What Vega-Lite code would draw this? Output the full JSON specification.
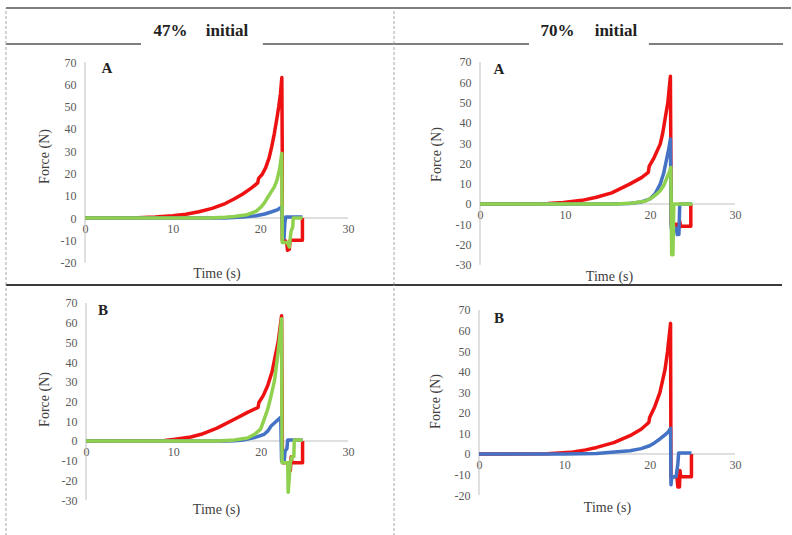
{
"$schema": "https://vega.github.io/schema/vega-lite/v6.json",
"padding": {"left": 5, "top": 7, "right": 2, "bottom": 0},
"background": "white",
"columns": 2,
"spacing": 0,
"bounds": "flush",
"config": {
  "view": {"stroke": null},
  "concat": {"spacing": 0},
  "axis": {"grid": false, "domain": false, "ticks": false, "labelOverlap": false, "labelSeparation": 0, "labelExpr": "'' + datum.value", "labelFont": "Liberation Serif", "labelFontSize": 12, "labelColor": "#595959", "titleFont": "Liberation Serif", "titleFontSize": 14, "titleFontWeight": "normal", "titleColor": "#404040"},
  "axisX": {"labelPadding": 5, "titleBaseline": "middle", "titleAlign": "center", "labelFlush": false},
  "axisY": {"labelPadding": 9, "titleAngle": 270, "titleBaseline": "middle", "titleAlign": "center"},
  "text": {"font": "Liberation Serif"}
},
"datasets": {
  "tl_r": [{"t":0,"f":0},{"t":6,"f":0.1},{"t":8,"f":0.4},{"t":10,"f":1},{"t":11.5,"f":1.7},{"t":13,"f":2.8},{"t":14.5,"f":4.3},{"t":16,"f":6.5},{"t":17,"f":8.5},{"t":18,"f":10.8},{"t":19,"f":13.5},{"t":19.7,"f":15.8},{"t":19.8,"f":17.8},{"t":20.2,"f":19.5},{"t":20.6,"f":22.5},{"t":21,"f":27},{"t":21.3,"f":32},{"t":21.6,"f":38},{"t":21.9,"f":45},{"t":22.1,"f":50},{"t":22.3,"f":56},{"t":22.45,"f":63},{"t":22.5,"f":30},{"t":22.5,"f":-10},{"t":22.8,"f":-10},{"t":23,"f":-11},{"t":23.1,"f":-14.5},{"t":23.3,"f":-14},{"t":23.4,"f":-10},{"t":24.8,"f":-10},{"t":24.8,"f":0}],
  "tl_b": [{"t":0,"f":0},{"t":16,"f":0},{"t":18,"f":0.4},{"t":19.5,"f":1},{"t":20.5,"f":1.8},{"t":21.3,"f":2.8},{"t":22,"f":3.8},{"t":22.45,"f":5},{"t":22.55,"f":-9},{"t":22.7,"f":-9},{"t":22.8,"f":-2},{"t":22.9,"f":0.5},{"t":24.8,"f":0.5}],
  "tl_g": [{"t":0,"f":0},{"t":14,"f":0},{"t":16,"f":0.3},{"t":17,"f":0.7},{"t":18.5,"f":1.5},{"t":19.5,"f":3},{"t":20.1,"f":5},{"t":20.5,"f":7},{"t":20.8,"f":9},{"t":21.2,"f":11.5},{"t":21.6,"f":14},{"t":21.9,"f":17},{"t":22.2,"f":22},{"t":22.45,"f":29},{"t":22.5,"f":-11},{"t":23.1,"f":-11},{"t":23.3,"f":-13},{"t":23.5,"f":-6},{"t":23.7,"f":-4},{"t":23.75,"f":0},{"t":24.8,"f":0}],
  "tr_r": [{"t":0,"f":0},{"t":6,"f":0.1},{"t":8,"f":0.3},{"t":9.8,"f":0.8},{"t":12,"f":1.8},{"t":13.7,"f":3.3},{"t":15.5,"f":5.5},{"t":17.6,"f":9.8},{"t":19,"f":13},{"t":19.8,"f":15.6},{"t":19.9,"f":18.5},{"t":20.5,"f":23},{"t":21.2,"f":29.5},{"t":21.5,"f":35},{"t":21.8,"f":42.6},{"t":22.1,"f":50},{"t":22.4,"f":63},{"t":22.5,"f":-10},{"t":23.1,"f":-10},{"t":23.2,"f":-12},{"t":23.4,"f":-12},{"t":23.5,"f":-8.5},{"t":23.6,"f":-11},{"t":24.8,"f":-11},{"t":24.8,"f":0}],
  "tr_b": [{"t":0,"f":0},{"t":15,"f":0},{"t":17.6,"f":0.3},{"t":19,"f":1},{"t":20,"f":2.5},{"t":20.6,"f":5},{"t":21.2,"f":9.8},{"t":21.6,"f":15},{"t":21.9,"f":21},{"t":22.2,"f":27},{"t":22.4,"f":32},{"t":22.5,"f":-12},{"t":23.1,"f":-12},{"t":23.2,"f":-15},{"t":23.4,"f":-15},{"t":23.5,"f":0},{"t":24.9,"f":0}],
  "tr_g": [{"t":0,"f":0},{"t":16,"f":0},{"t":18,"f":0.5},{"t":19.5,"f":1.5},{"t":20.3,"f":3.3},{"t":20.8,"f":5},{"t":21.2,"f":6.5},{"t":21.6,"f":9},{"t":22,"f":13},{"t":22.3,"f":16},{"t":22.45,"f":18},{"t":22.55,"f":-25},{"t":22.7,"f":-25},{"t":22.8,"f":0},{"t":25,"f":0}],
  "bl_r": [{"t":0,"f":0},{"t":9,"f":0.2},{"t":10,"f":0.8},{"t":12,"f":2},{"t":13.2,"f":3.4},{"t":15,"f":6.5},{"t":17,"f":11},{"t":18.5,"f":14.5},{"t":19.7,"f":17},{"t":19.8,"f":19.5},{"t":20.3,"f":23},{"t":20.8,"f":28},{"t":21.3,"f":35},{"t":21.6,"f":41.5},{"t":22,"f":50},{"t":22.4,"f":63.5},{"t":22.5,"f":-11},{"t":23.1,"f":-11},{"t":23.2,"f":-15},{"t":23.4,"f":-15},{"t":23.5,"f":-8},{"t":23.6,"f":-11},{"t":24.8,"f":-11},{"t":24.8,"f":0}],
  "bl_b": [{"t":0,"f":0},{"t":16,"f":0},{"t":17,"f":0.1},{"t":18,"f":0.5},{"t":19.3,"f":1.7},{"t":20.4,"f":3.4},{"t":20.8,"f":5},{"t":21.2,"f":7.6},{"t":21.8,"f":10},{"t":22.3,"f":12},{"t":22.4,"f":-10},{"t":22.7,"f":-10},{"t":22.8,"f":-5},{"t":23,"f":-4},{"t":23.1,"f":0.5},{"t":24.8,"f":0.5}],
  "bl_g": [{"t":0,"f":0},{"t":15,"f":0},{"t":17,"f":0.5},{"t":18.5,"f":1.5},{"t":19.3,"f":3.4},{"t":20,"f":6},{"t":20.4,"f":11},{"t":20.8,"f":16},{"t":21.2,"f":23},{"t":21.6,"f":31},{"t":22,"f":45},{"t":22.4,"f":62},{"t":22.45,"f":-11},{"t":23.1,"f":-11},{"t":23.15,"f":-26},{"t":23.3,"f":-17},{"t":23.4,"f":-11},{"t":23.6,"f":-8},{"t":23.8,"f":-8},{"t":23.85,"f":0.5},{"t":24.8,"f":0.5}],
  "br_r": [{"t":0,"f":0},{"t":8,"f":0.1},{"t":10.7,"f":0.8},{"t":12.5,"f":2},{"t":13.8,"f":3.2},{"t":15.8,"f":5.5},{"t":17.7,"f":8.9},{"t":19,"f":12},{"t":19.9,"f":15.3},{"t":20,"f":17.7},{"t":20.6,"f":23},{"t":21.2,"f":29.8},{"t":21.8,"f":41},{"t":22.1,"f":50},{"t":22.45,"f":63.5},{"t":22.5,"f":-11},{"t":23.2,"f":-11},{"t":23.3,"f":-16},{"t":23.5,"f":-16},{"t":23.55,"f":-8},{"t":23.65,"f":-11},{"t":24.9,"f":-11},{"t":24.9,"f":0}],
  "br_b": [{"t":0,"f":0},{"t":10,"f":0},{"t":13.8,"f":0.3},{"t":15.5,"f":0.8},{"t":17.7,"f":1.6},{"t":19,"f":2.6},{"t":20,"f":4},{"t":20.6,"f":5.5},{"t":21.2,"f":7.3},{"t":21.8,"f":9.3},{"t":22.2,"f":10.8},{"t":22.45,"f":12.5},{"t":22.5,"f":-15},{"t":22.6,"f":-11},{"t":23.1,"f":-11},{"t":23.3,"f":-5},{"t":23.4,"f":0.5},{"t":24.9,"f":0.5}]
},
"concat": [
    {"width": 388, "height": 36, "data": {"values": [{}]},
     "layer": [
      {"mark": {"type": "rule", "color": "#555555", "strokeWidth": 1.5}, "encoding": {"x": {"datum": 0, "scale": {"domain": [0, 1]}, "axis": null}, "x2": {"datum": 1}, "y": {"datum": 1, "scale": {"domain": [0, 1]}, "axis": null}}},
      {"mark": {"type": "rule", "color": "#555555", "strokeWidth": 1.5}, "encoding": {"x": {"datum": 0, "axis": null}, "x2": {"datum": 0.348}, "y": {"datum": 0, "axis": null}}},
      {"mark": {"type": "rule", "color": "#555555", "strokeWidth": 1.5}, "encoding": {"x": {"datum": 0.662, "axis": null}, "x2": {"datum": 1}, "y": {"datum": 0, "axis": null}}},
      {"mark": {"type": "rule", "color": "#a6a6a6", "strokeDash": [3, 2], "strokeWidth": 1}, "encoding": {"x": {"datum": 0, "axis": null}, "y": {"datum": 0, "axis": null}, "y2": {"datum": 1}}},
      {"mark": {"type": "rule", "color": "#a6a6a6", "strokeDash": [3, 2], "strokeWidth": 1}, "encoding": {"x": {"datum": 1, "axis": null}, "y": {"datum": 0, "axis": null}, "y2": {"datum": 1}}},
      {"mark": {"type": "text", "fontSize": 17, "fontWeight": "bold", "color": "#222222", "align": "center", "baseline": "alphabetic"}, "encoding": {"x": {"datum": 0.424, "axis": null}, "y": {"datum": 0.222, "axis": null}, "text": {"value": "47%"}}},
      {"mark": {"type": "text", "fontSize": 17, "fontWeight": "bold", "color": "#222222", "align": "center", "baseline": "alphabetic"}, "encoding": {"x": {"datum": 0.5696, "axis": null}, "y": {"datum": 0.222, "axis": null}, "text": {"value": "initial"}}}
     ]},
    {"width": 397, "height": 36, "data": {"values": [{}]},
     "layer": [
      {"mark": {"type": "rule", "color": "#555555", "strokeWidth": 1.5}, "encoding": {"x": {"datum": 0, "scale": {"domain": [0, 1]}, "axis": null}, "x2": {"datum": 1}, "y": {"datum": 1, "scale": {"domain": [0, 1]}, "axis": null}}},
      {"mark": {"type": "rule", "color": "#555555", "strokeWidth": 1.5}, "encoding": {"x": {"datum": 0, "axis": null}, "x2": {"datum": 0.34}, "y": {"datum": 0, "axis": null}}},
      {"mark": {"type": "rule", "color": "#555555", "strokeWidth": 1.5}, "encoding": {"x": {"datum": 0.642, "axis": null}, "x2": {"datum": 0.98}, "y": {"datum": 0, "axis": null}}},
      {"mark": {"type": "text", "fontSize": 17, "fontWeight": "bold", "color": "#222222", "align": "center", "baseline": "alphabetic"}, "encoding": {"x": {"datum": 0.412, "axis": null}, "y": {"datum": 0.222, "axis": null}, "text": {"value": "70%"}}},
      {"mark": {"type": "text", "fontSize": 17, "fontWeight": "bold", "color": "#222222", "align": "center", "baseline": "alphabetic"}, "encoding": {"x": {"datum": 0.559, "axis": null}, "y": {"datum": 0.222, "axis": null}, "text": {"value": "initial"}}}
     ]},
    {"width": 388, "height": 241,
     "layer": [
      {"data": {"values": [{}]}, "mark": {"type": "rule", "color": "#a6a6a6", "strokeDash": [3, 2], "strokeWidth": 1}, "encoding": {"x": {"datum": -9.011, "axis": {"title": "Time (s)", "values": [0, 10, 20, 30], "labelOverlap": false, "offset": -67, "titleX": 210.5, "titleY": 55}}, "y": {"datum": -30.06, "axis": {"title": "Force (N)", "values": [-20, -10, 0, 10, 20, 30, 40, 50, 60, 70], "labelOverlap": false, "offset": -79, "titleX": -41, "titleY": 112}}, "y2": {"datum": 78.08}}},
      {"data": {"values": [{}]}, "mark": {"type": "rule", "color": "#a6a6a6", "strokeDash": [3, 2], "strokeWidth": 1}, "encoding": {"x": {"datum": 35.245, "axis": {"title": "Time (s)", "values": [0, 10, 20, 30], "labelOverlap": false, "offset": -67, "titleX": 210.5, "titleY": 55}}, "y": {"datum": -30.06, "axis": {"title": "Force (N)", "values": [-20, -10, 0, 10, 20, 30, 40, 50, 60, 70], "labelOverlap": false, "offset": -79, "titleX": -41, "titleY": 112}}, "y2": {"datum": 78.08}}},
      {"data": {"values": [{}]}, "mark": {"type": "rule", "color": "#3a3a3a", "strokeWidth": 2}, "encoding": {"x": {"datum": -9.011, "axis": {"title": "Time (s)", "values": [0, 10, 20, 30], "labelOverlap": false, "offset": -67, "titleX": 210.5, "titleY": 55}}, "x2": {"datum": 35.245}, "y": {"datum": -30.06, "axis": {"title": "Force (N)", "values": [-20, -10, 0, 10, 20, 30, 40, 50, 60, 70], "labelOverlap": false, "offset": -79, "titleX": -41, "titleY": 112}}}},
      {"data": {"values": [{}]}, "mark": {"type": "rule", "color": "#c0c0c0", "strokeWidth": 1}, "encoding": {"x": {"datum": 0, "axis": {"title": "Time (s)", "values": [0, 10, 20, 30], "labelOverlap": false, "offset": -67, "titleX": 210.5, "titleY": 55}}, "x2": {"datum": 30}, "y": {"datum": 0, "axis": {"title": "Force (N)", "values": [-20, -10, 0, 10, 20, 30, 40, 50, 60, 70], "labelOverlap": false, "offset": -79, "titleX": -41, "titleY": 112}}}},
      {"data": {"values": [{}]}, "mark": {"type": "rule", "color": "#c0c0c0", "strokeWidth": 1}, "encoding": {"x": {"datum": 0, "axis": {"title": "Time (s)", "values": [0, 10, 20, 30], "labelOverlap": false, "offset": -67, "titleX": 210.5, "titleY": 55}}, "y": {"datum": -20, "axis": {"title": "Force (N)", "values": [-20, -10, 0, 10, 20, 30, 40, 50, 60, 70], "labelOverlap": false, "offset": -79, "titleX": -41, "titleY": 112}}, "y2": {"datum": 70}}},
      {"data": {"values": [{}]}, "mark": {"type": "text", "fontSize": 15, "fontWeight": "bold", "color": "#222222", "align": "center", "baseline": "middle"}, "encoding": {"x": {"datum": 2.5, "axis": {"title": "Time (s)", "values": [0, 10, 20, 30], "labelOverlap": false, "offset": -67, "titleX": 210.5, "titleY": 55}}, "y": {"datum": 67.3, "axis": {"title": "Force (N)", "values": [-20, -10, 0, 10, 20, 30, 40, 50, 60, 70], "labelOverlap": false, "offset": -79, "titleX": -41, "titleY": 112}}, "text": {"value": "A"}}},
      {"data": {"name": "tl_r"}, "mark": {"type": "line", "color": "#ee1111", "strokeWidth": 3.5, "strokeJoin": "round", "order": false},
       "encoding": {
        "x": {"field": "t", "type": "quantitative", "scale": {"domain": [-9.011, 35.245], "nice": false, "zero": false}, "axis": {"title": "Time (s)", "values": [0, 10, 20, 30], "labelOverlap": false, "offset": -67, "titleX": 210.5, "titleY": 55}},
        "y": {"field": "f", "type": "quantitative", "scale": {"domain": [-30.06, 78.08], "nice": false, "zero": false}, "axis": {"title": "Force (N)", "values": [-20, -10, 0, 10, 20, 30, 40, 50, 60, 70], "labelOverlap": false, "offset": -79, "titleX": -41, "titleY": 112}}}},
      {"data": {"name": "tl_b"}, "mark": {"type": "line", "color": "#4472c4", "strokeWidth": 3.5, "strokeJoin": "round", "order": false},
       "encoding": {"x": {"field": "t", "type": "quantitative", "axis": {"title": "Time (s)", "values": [0, 10, 20, 30], "labelOverlap": false, "offset": -67, "titleX": 210.5, "titleY": 55}}, "y": {"field": "f", "type": "quantitative", "axis": {"title": "Force (N)", "values": [-20, -10, 0, 10, 20, 30, 40, 50, 60, 70], "labelOverlap": false, "offset": -79, "titleX": -41, "titleY": 112}}}},
      {"data": {"name": "tl_g"}, "mark": {"type": "line", "color": "#8fd14f", "strokeWidth": 3.5, "strokeJoin": "round", "order": false},
       "encoding": {"x": {"field": "t", "type": "quantitative", "axis": {"title": "Time (s)", "values": [0, 10, 20, 30], "labelOverlap": false, "offset": -67, "titleX": 210.5, "titleY": 55}}, "y": {"field": "f", "type": "quantitative", "axis": {"title": "Force (N)", "values": [-20, -10, 0, 10, 20, 30, 40, 50, 60, 70], "labelOverlap": false, "offset": -79, "titleX": -41, "titleY": 112}}}}
     ]},
    {"width": 392, "height": 241,
     "layer": [
      {"data": {"values": [{}]}, "mark": {"type": "rule", "color": "#3a3a3a", "strokeWidth": 2}, "encoding": {"x": {"datum": -10.118, "axis": {"title": "Time (s)", "values": [0, 10, 20, 30], "labelOverlap": false, "offset": -81, "titleX": 215, "titleY": 72}}, "x2": {"datum": 35.53}, "y": {"datum": -39.93, "axis": {"title": "Force (N)", "values": [-30, -20, -10, 0, 10, 20, 30, 40, 50, 60, 70], "labelOverlap": false, "offset": -86, "titleX": -44, "titleY": 110}}}},
      {"data": {"values": [{}]}, "mark": {"type": "rule", "color": "#c0c0c0", "strokeWidth": 1}, "encoding": {"x": {"datum": 0, "axis": {"title": "Time (s)", "values": [0, 10, 20, 30], "labelOverlap": false, "offset": -81, "titleX": 215, "titleY": 72}}, "x2": {"datum": 30}, "y": {"datum": 0, "axis": {"title": "Force (N)", "values": [-30, -20, -10, 0, 10, 20, 30, 40, 50, 60, 70], "labelOverlap": false, "offset": -86, "titleX": -44, "titleY": 110}}}},
      {"data": {"values": [{}]}, "mark": {"type": "rule", "color": "#c0c0c0", "strokeWidth": 1}, "encoding": {"x": {"datum": 0, "axis": {"title": "Time (s)", "values": [0, 10, 20, 30], "labelOverlap": false, "offset": -81, "titleX": 215, "titleY": 72}}, "y": {"datum": -30, "axis": {"title": "Force (N)", "values": [-30, -20, -10, 0, 10, 20, 30, 40, 50, 60, 70], "labelOverlap": false, "offset": -86, "titleX": -44, "titleY": 110}}, "y2": {"datum": 70}}},
      {"data": {"values": [{}]}, "mark": {"type": "text", "fontSize": 15, "fontWeight": "bold", "color": "#222222", "align": "center", "baseline": "middle"}, "encoding": {"x": {"datum": 2.24, "axis": {"title": "Time (s)", "values": [0, 10, 20, 30], "labelOverlap": false, "offset": -81, "titleX": 215, "titleY": 72}}, "y": {"datum": 66.5, "axis": {"title": "Force (N)", "values": [-30, -20, -10, 0, 10, 20, 30, 40, 50, 60, 70], "labelOverlap": false, "offset": -86, "titleX": -44, "titleY": 110}}, "text": {"value": "A"}}},
      {"data": {"name": "tr_r"}, "mark": {"type": "line", "color": "#ee1111", "strokeWidth": 3.5, "strokeJoin": "round", "order": false},
       "encoding": {
        "x": {"field": "t", "type": "quantitative", "scale": {"domain": [-10.118, 36.0], "nice": false, "zero": false}, "axis": {"title": "Time (s)", "values": [0, 10, 20, 30], "labelOverlap": false, "offset": -81, "titleX": 215, "titleY": 72}},
        "y": {"field": "f", "type": "quantitative", "scale": {"domain": [-39.93, 78.87], "nice": false, "zero": false}, "axis": {"title": "Force (N)", "values": [-30, -20, -10, 0, 10, 20, 30, 40, 50, 60, 70], "labelOverlap": false, "offset": -86, "titleX": -44, "titleY": 110}}}},
      {"data": {"name": "tr_b"}, "mark": {"type": "line", "color": "#4472c4", "strokeWidth": 3.5, "strokeJoin": "round", "order": false},
       "encoding": {"x": {"field": "t", "type": "quantitative", "axis": {"title": "Time (s)", "values": [0, 10, 20, 30], "labelOverlap": false, "offset": -81, "titleX": 215, "titleY": 72}}, "y": {"field": "f", "type": "quantitative", "axis": {"title": "Force (N)", "values": [-30, -20, -10, 0, 10, 20, 30, 40, 50, 60, 70], "labelOverlap": false, "offset": -86, "titleX": -44, "titleY": 110}}}},
      {"data": {"name": "tr_g"}, "mark": {"type": "line", "color": "#8fd14f", "strokeWidth": 3.5, "strokeJoin": "round", "order": false},
       "encoding": {"x": {"field": "t", "type": "quantitative", "axis": {"title": "Time (s)", "values": [0, 10, 20, 30], "labelOverlap": false, "offset": -81, "titleX": 215, "titleY": 72}}, "y": {"field": "f", "type": "quantitative", "axis": {"title": "Force (N)", "values": [-30, -20, -10, 0, 10, 20, 30, 40, 50, 60, 70], "labelOverlap": false, "offset": -86, "titleX": -44, "titleY": 110}}}}
     ]},
    {"width": 388, "height": 251,
     "layer": [
      {"data": {"values": [{}]}, "mark": {"type": "rule", "color": "#a6a6a6", "strokeDash": [3, 2], "strokeWidth": 1}, "encoding": {"x": {"datum": -9.16, "axis": {"title": "Time (s)", "values": [0, 10, 20, 30], "labelOverlap": false, "offset": -95, "titleX": 210, "titleY": 68}}, "y": {"datum": -48.19, "axis": {"title": "Force (N)", "values": [-30, -20, -10, 0, 10, 20, 30, 40, 50, 60, 70], "labelOverlap": false, "offset": -80, "titleX": -42, "titleY": 114}}, "y2": {"datum": 79.13}}},
      {"data": {"values": [{}]}, "mark": {"type": "rule", "color": "#a6a6a6", "strokeDash": [3, 2], "strokeWidth": 1}, "encoding": {"x": {"datum": 35.27, "axis": {"title": "Time (s)", "values": [0, 10, 20, 30], "labelOverlap": false, "offset": -95, "titleX": 210, "titleY": 68}}, "y": {"datum": -48.19, "axis": {"title": "Force (N)", "values": [-30, -20, -10, 0, 10, 20, 30, 40, 50, 60, 70], "labelOverlap": false, "offset": -80, "titleX": -42, "titleY": 114}}, "y2": {"datum": 79.13}}},
      {"data": {"values": [{}]}, "mark": {"type": "rule", "color": "#c0c0c0", "strokeWidth": 1}, "encoding": {"x": {"datum": 0, "axis": {"title": "Time (s)", "values": [0, 10, 20, 30], "labelOverlap": false, "offset": -95, "titleX": 210, "titleY": 68}}, "x2": {"datum": 30}, "y": {"datum": 0, "axis": {"title": "Force (N)", "values": [-30, -20, -10, 0, 10, 20, 30, 40, 50, 60, 70], "labelOverlap": false, "offset": -80, "titleX": -42, "titleY": 114}}}},
      {"data": {"values": [{}]}, "mark": {"type": "rule", "color": "#c0c0c0", "strokeWidth": 1}, "encoding": {"x": {"datum": 0, "axis": {"title": "Time (s)", "values": [0, 10, 20, 30], "labelOverlap": false, "offset": -95, "titleX": 210, "titleY": 68}}, "y": {"datum": -30, "axis": {"title": "Force (N)", "values": [-30, -20, -10, 0, 10, 20, 30, 40, 50, 60, 70], "labelOverlap": false, "offset": -80, "titleX": -42, "titleY": 114}}, "y2": {"datum": 70}}},
      {"data": {"values": [{}]}, "mark": {"type": "text", "fontSize": 15, "fontWeight": "bold", "color": "#222222", "align": "center", "baseline": "middle"}, "encoding": {"x": {"datum": 1.95, "axis": {"title": "Time (s)", "values": [0, 10, 20, 30], "labelOverlap": false, "offset": -95, "titleX": 210, "titleY": 68}}, "y": {"datum": 66.4, "axis": {"title": "Force (N)", "values": [-30, -20, -10, 0, 10, 20, 30, 40, 50, 60, 70], "labelOverlap": false, "offset": -80, "titleX": -42, "titleY": 114}}, "text": {"value": "B"}}},
      {"data": {"name": "bl_r"}, "mark": {"type": "line", "color": "#ee1111", "strokeWidth": 3.5, "strokeJoin": "round", "order": false},
       "encoding": {
        "x": {"field": "t", "type": "quantitative", "scale": {"domain": [-9.16, 35.27], "nice": false, "zero": false}, "axis": {"title": "Time (s)", "values": [0, 10, 20, 30], "labelOverlap": false, "offset": -95, "titleX": 210, "titleY": 68}},
        "y": {"field": "f", "type": "quantitative", "scale": {"domain": [-48.19, 79.13], "nice": false, "zero": false}, "axis": {"title": "Force (N)", "values": [-30, -20, -10, 0, 10, 20, 30, 40, 50, 60, 70], "labelOverlap": false, "offset": -80, "titleX": -42, "titleY": 114}}}},
      {"data": {"name": "bl_b"}, "mark": {"type": "line", "color": "#4472c4", "strokeWidth": 3.5, "strokeJoin": "round", "order": false},
       "encoding": {"x": {"field": "t", "type": "quantitative", "axis": {"title": "Time (s)", "values": [0, 10, 20, 30], "labelOverlap": false, "offset": -95, "titleX": 210, "titleY": 68}}, "y": {"field": "f", "type": "quantitative", "axis": {"title": "Force (N)", "values": [-30, -20, -10, 0, 10, 20, 30, 40, 50, 60, 70], "labelOverlap": false, "offset": -80, "titleX": -42, "titleY": 114}}}},
      {"data": {"name": "bl_g"}, "mark": {"type": "line", "color": "#8fd14f", "strokeWidth": 3.5, "strokeJoin": "round", "order": false},
       "encoding": {"x": {"field": "t", "type": "quantitative", "axis": {"title": "Time (s)", "values": [0, 10, 20, 30], "labelOverlap": false, "offset": -95, "titleX": 210, "titleY": 68}}, "y": {"field": "f", "type": "quantitative", "axis": {"title": "Force (N)", "values": [-30, -20, -10, 0, 10, 20, 30, 40, 50, 60, 70], "labelOverlap": false, "offset": -80, "titleX": -42, "titleY": 114}}}}
     ]},
    {"width": 392, "height": 251,
     "layer": [
      {"data": {"values": [{}]}, "mark": {"type": "rule", "color": "#c0c0c0", "strokeWidth": 1}, "encoding": {"x": {"datum": 0, "axis": {"title": "Time (s)", "values": [0, 10, 20, 30], "labelOverlap": false, "offset": -82, "titleX": 213, "titleY": 53}}, "x2": {"datum": 30}, "y": {"datum": 0, "axis": {"title": "Force (N)", "values": [-20, -10, 0, 10, 20, 30, 40, 50, 60, 70], "labelOverlap": false, "offset": -85, "titleX": -44, "titleY": 116}}}},
      {"data": {"values": [{}]}, "mark": {"type": "rule", "color": "#c0c0c0", "strokeWidth": 1}, "encoding": {"x": {"datum": 0, "axis": {"title": "Time (s)", "values": [0, 10, 20, 30], "labelOverlap": false, "offset": -82, "titleX": 213, "titleY": 53}}, "y": {"datum": -20, "axis": {"title": "Force (N)", "values": [-20, -10, 0, 10, 20, 30, 40, 50, 60, 70], "labelOverlap": false, "offset": -85, "titleX": -44, "titleY": 116}}, "y2": {"datum": 70}}},
      {"data": {"values": [{}]}, "mark": {"type": "text", "fontSize": 15, "fontWeight": "bold", "color": "#222222", "align": "center", "baseline": "middle"}, "encoding": {"x": {"datum": 2.34, "axis": {"title": "Time (s)", "values": [0, 10, 20, 30], "labelOverlap": false, "offset": -82, "titleX": 213, "titleY": 53}}, "y": {"datum": 66.1, "axis": {"title": "Force (N)", "values": [-20, -10, 0, 10, 20, 30, 40, 50, 60, 70], "labelOverlap": false, "offset": -85, "titleX": -44, "titleY": 116}}, "text": {"value": "B"}}},
      {"data": {"name": "br_r"}, "mark": {"type": "line", "color": "#ee1111", "strokeWidth": 3.5, "strokeJoin": "round", "order": false},
       "encoding": {
        "x": {"field": "t", "type": "quantitative", "scale": {"domain": [-9.96, 35.98], "nice": false, "zero": false}, "axis": {"title": "Time (s)", "values": [0, 10, 20, 30], "labelOverlap": false, "offset": -82, "titleX": 213, "titleY": 53}},
        "y": {"field": "f", "type": "quantitative", "scale": {"domain": [-39.86, 82.15], "nice": false, "zero": false}, "axis": {"title": "Force (N)", "values": [-20, -10, 0, 10, 20, 30, 40, 50, 60, 70], "labelOverlap": false, "offset": -85, "titleX": -44, "titleY": 116}}}},
      {"data": {"name": "br_b"}, "mark": {"type": "line", "color": "#4472c4", "strokeWidth": 3.5, "strokeJoin": "round", "order": false},
       "encoding": {"x": {"field": "t", "type": "quantitative", "axis": {"title": "Time (s)", "values": [0, 10, 20, 30], "labelOverlap": false, "offset": -82, "titleX": 213, "titleY": 53}}, "y": {"field": "f", "type": "quantitative", "axis": {"title": "Force (N)", "values": [-20, -10, 0, 10, 20, 30, 40, 50, 60, 70], "labelOverlap": false, "offset": -85, "titleX": -44, "titleY": 116}}}}
     ]}
]
}
